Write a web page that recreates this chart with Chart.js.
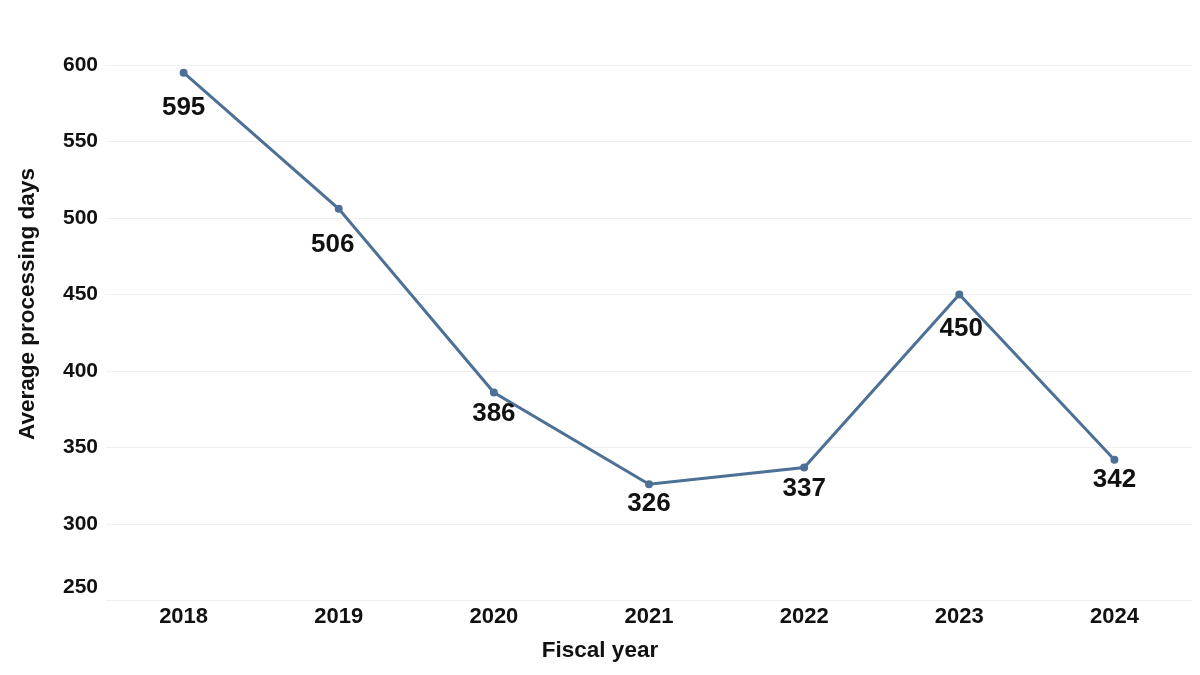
<!DOCTYPE html>
<html>
<head>
<meta charset="utf-8">
<script src="https://cdn.jsdelivr.net/npm/chart.js@4/dist/chart.umd.min.js"></script>
<style>
html,body{margin:0;padding:0;background:#fff;}
#wrap{width:1200px;height:675px;}
</style>
</head>
<body>
<div id="wrap"><canvas id="c" width="1200" height="675"></canvas></div>
<script>
const fiscalYears = ['2018','2019','2020','2021','2022','2023','2024'];
const avgProcessingDays = [595, 506, 386, 326, 337, 450, 342];
const yTicks = [250, 300, 350, 400, 450, 500, 550, 600];
const xTitle = 'Fiscal year';
const yTitle = 'Average processing days';

const FONT = '"Liberation Sans", Arial, sans-serif';
const labelOffsets = [[0,35],[-6,36],[0,21],[0,20],[0,21],[2,34],[0,20]];

const valueLabels = {
  id: 'valueLabels',
  afterDatasetsDraw(chart) {
    const ctx = chart.ctx;
    const meta = chart.getDatasetMeta(0);
    ctx.save();
    ctx.font = 'bold 26px ' + FONT;
    ctx.fillStyle = '#111';
    ctx.textAlign = 'center';
    ctx.textBaseline = 'middle';
    meta.data.forEach((pt, i) => {
      const o = labelOffsets[i];
      ctx.fillText(String(avgProcessingDays[i]), pt.x + o[0], pt.y + o[1]);
    });
    // bottom y tick label sits slightly above its gridline
    const y = chart.scales.y;
    ctx.font = 'bold 21px ' + FONT;
    ctx.textAlign = 'right';
    ctx.fillText(String(yTicks[0]), y.right - 8, y.getPixelForValue(yTicks[0]) - 13);
    // axis titles, centred on the canvas as in the original
    ctx.font = 'bold 22.5px ' + FONT;
    ctx.textAlign = 'center';
    ctx.fillText(xTitle, chart.width / 2, 651);
    ctx.translate(28, 304);
    ctx.rotate(-Math.PI / 2);
    ctx.fillText(yTitle, 0, 0);
    ctx.restore();
  }
};

new Chart(document.getElementById('c'), {
  type: 'line',
  data: {
    labels: fiscalYears,
    datasets: [{
      data: avgProcessingDays,
      borderColor: '#4d7096',
      backgroundColor: '#4d7096',
      borderWidth: 3,
      pointRadius: 2.5,
      pointHoverRadius: 2.5,
      tension: 0,
      fill: false
    }]
  },
  options: {
    responsive: false,
    animation: false,
    devicePixelRatio: 1,
    layout: { padding: { top: 65, right: 8, left: 55, bottom: 42 } },
    plugins: { legend: { display: false }, tooltip: { enabled: false } },
    scales: {
      x: {
        offset: true,
        grid: { display: false, drawTicks: false },
        border: { display: false },
        ticks: { color: '#111', font: { family: FONT, size: 22, weight: 'bold' }, padding: 3 }
      },
      y: {
        min: 250, max: 600,
        afterBuildTicks(axis) { axis.ticks = yTicks.map(v => ({ value: v })); },
        grid: { color: '#efefef', drawTicks: false, lineWidth: 1 },
        border: { display: false },
        ticks: {
          color: '#111', font: { family: FONT, size: 21, weight: 'bold' }, padding: 8,
          callback: (v) => (v === yTicks[0] ? '   ' : String(v))
        }
      }
    }
  },
  plugins: [valueLabels]
});
</script>
</body>
</html>
